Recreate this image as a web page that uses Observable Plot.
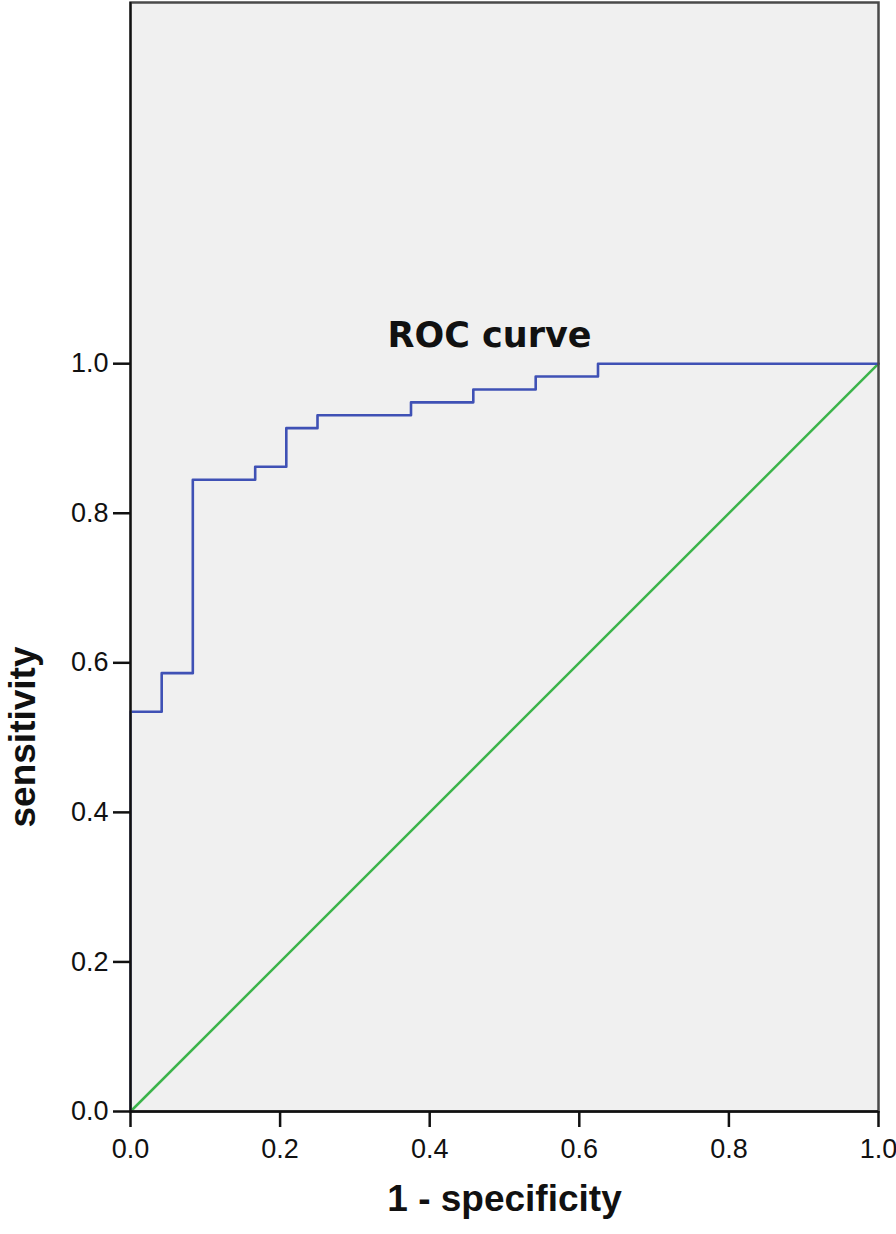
<!DOCTYPE html>
<html>
<head>
<meta charset="utf-8">
<script src="https://cdn.jsdelivr.net/npm/d3@7"></script>
<script src="https://cdn.jsdelivr.net/npm/@observablehq/plot@0.6"></script>
<style>
  html, body { margin: 0; padding: 0; background: #ffffff; }
  #chart svg { display: block; }
</style>
</head>
<body>
<div id="chart"></div>
<script>
// ROC curve points (1 - specificity, sensitivity)
const fpr = [0, 0, 0.0417, 0.0833, 0.1667, 0.2083, 0.25, 0.375, 0.4583, 0.5417, 0.625, 1.0];
const tpr = [0, 0.5345, 0.5862, 0.8448, 0.8621, 0.9138, 0.9310, 0.9483, 0.9655, 0.9828, 1.0, 1.0];
// Reference (chance) line
const refX = [0, 1];
const refY = [0, 1];
// Ticks
const xTicks = [0, 0.2, 0.4, 0.6, 0.8, 1.0];
const yTicks = [0, 0.2, 0.4, 0.6, 0.8, 1.0];
// Texts
const chartTitle = ["ROC curve"];
const xLabel = ["1 - specificity"];
const yLabel = ["sensitivity"];

const roc = fpr.map((x, i) => ({x, y: tpr[i]}));
const ref = refX.map((x, i) => ({x, y: refY[i]}));

const fmt = d3.format(".1f");

const chart = Plot.plot({
  width: 896,
  height: 1234,
  marginLeft: 130,
  marginRight: 18,
  marginTop: 2,
  marginBottom: 123,
  style: {background: "#ffffff", color: "#111"},
  x: {domain: [0, 1], label: null},
  y: {domain: [0, 1.483], label: null},
  marks: [
    Plot.frame({fill: "#f0f0f0"}),
    Plot.line(ref, {x: "x", y: "y", stroke: "#3cb44b", strokeWidth: 2.5}),
    Plot.line(roc, {x: "x", y: "y", curve: "step-after", stroke: "#3f51b5", strokeWidth: 2.6}),
    Plot.frame({stroke: "#4a4a4a", strokeWidth: 2.5}),
    Plot.ruleY([0], {stroke: "#111", strokeWidth: 2.5}),
    Plot.ruleX([0], {stroke: "#111", strokeWidth: 2}),
    Plot.axisX({ticks: xTicks, tickFormat: fmt, tickSize: 16, tickPadding: 11, strokeWidth: 2.5,
      fontSize: 27, fontFamily: "Liberation Sans", fill: "#111", label: null}),
    Plot.axisY({ticks: yTicks, tickFormat: fmt, tickSize: 17, tickPadding: 5, strokeWidth: 2.5,
      fontSize: 27, fontFamily: "Liberation Sans", fill: "#111", label: null}),
    Plot.text(chartTitle, {text: d => d, frameAnchor: "top", dy: 320, dx: -15,
      fontSize: 35, fontWeight: "bold", fontFamily: "DejaVu Sans", fill: "#111"}),
    Plot.text(xLabel, {text: d => d, frameAnchor: "bottom", dy: 99,
      fontSize: 37, fontWeight: "bold", fontFamily: "Liberation Sans", fill: "#111"}),
    Plot.text(yLabel, {text: d => d, frameAnchor: "left", textAnchor: "middle", dx: -107, dy: 180, rotate: -90,
      fontSize: 37, fontWeight: "bold", fontFamily: "Liberation Sans", fill: "#111"})
  ]
});

document.getElementById("chart").appendChild(chart);
</script>
</body>
</html>
